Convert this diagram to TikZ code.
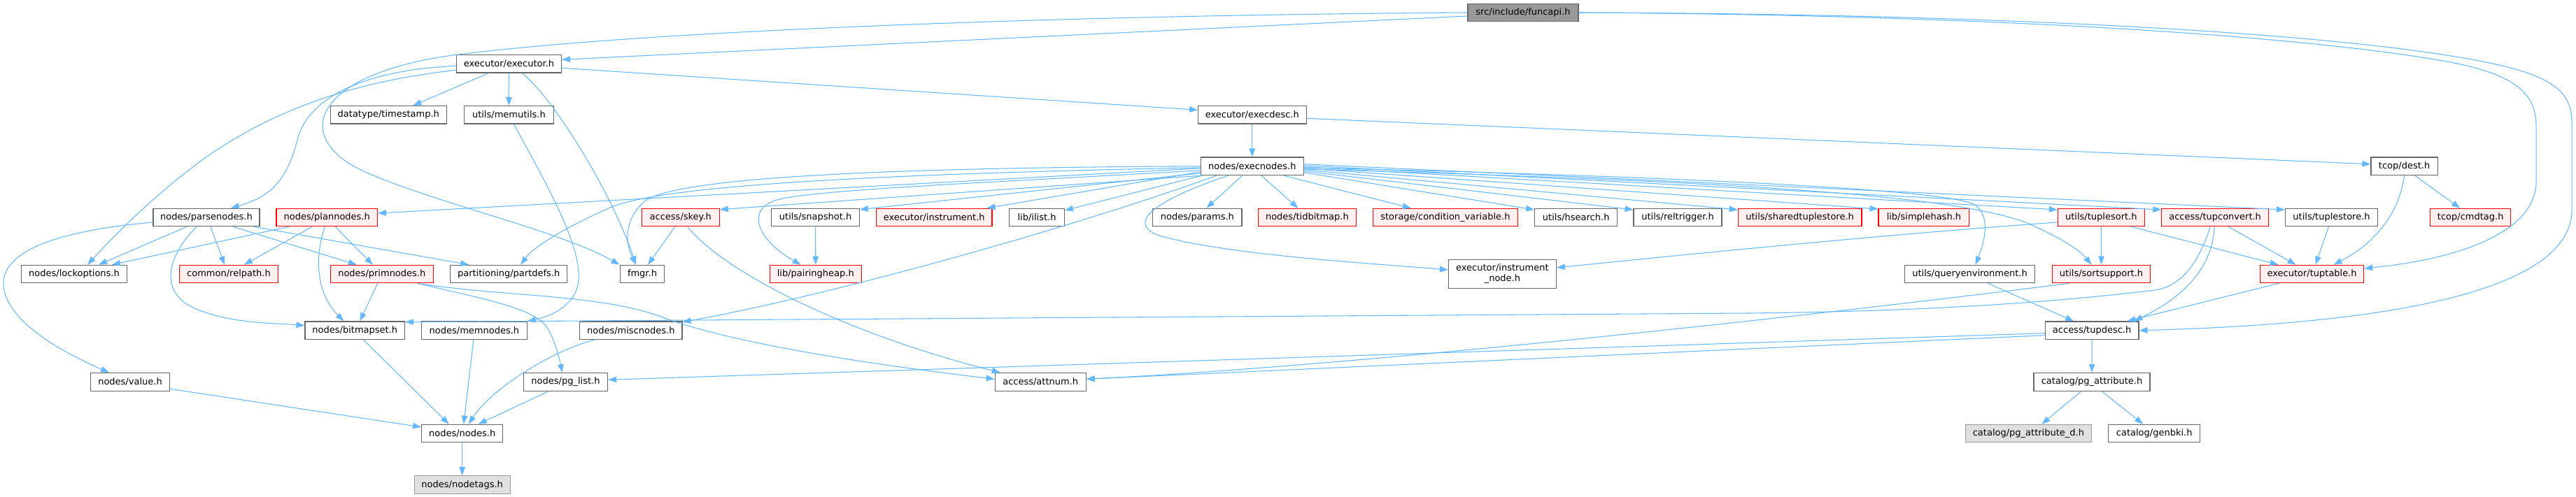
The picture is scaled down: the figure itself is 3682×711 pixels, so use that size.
\documentclass[tikz,border=0pt]{standalone}
\usepackage{fontspec}
\setmainfont{DejaVu Sans}
\usetikzlibrary{arrows.meta,calc}
\definecolor{edgec}{HTML}{63B8FF}
\definecolor{bordc}{HTML}{666666}
\definecolor{redfill}{HTML}{FFF0F0}
\definecolor{rootfill}{HTML}{999999}
\definecolor{grayfill}{HTML}{E0E0E0}
\definecolor{grayb}{HTML}{999999}
\begin{document}
\begin{tikzpicture}[x=1pt,y=-1pt,
  nbox/.style={draw=bordc,fill=white,line width=1.1pt,rectangle,inner sep=0pt,minimum height=25.5pt,font=\fontsize{13}{15}\selectfont,text=black},
  rbox/.style={nbox,draw=red,fill=redfill},
  gbox/.style={nbox,draw=grayb,fill=grayfill},
  rootbox/.style={nbox,fill=rootfill},
  conn/.style={draw=edgec,line width=1.05pt,-{Triangle[length=12pt,width=8.5pt]}}]
\useasboundingbox (0,0) rectangle (3682,711);
\fill[white] (0,0) rectangle (3682,711);
% nodes
\node[rootbox,minimum width=158pt] (funcapi) at (2177,18) {src/include/funcapi.h};
\node[nbox,minimum width=150pt] (executor) at (727.5,91.3) {executor/executor.h};
\node[nbox,minimum width=166.5pt] (timestamp) at (555.3,164.3) {datatype/timestamp.h};
\node[nbox,minimum width=128pt] (memutils) at (727.4,164.3) {utils/memutils.h};
\node[nbox,minimum width=154.6pt] (execdesc) at (1789.8,164.3) {executor/execdesc.h};
\node[nbox,minimum width=146.8pt] (execnodes) at (1789.8,237.8) {nodes/execnodes.h};
\node[nbox,minimum width=95.2pt] (dest) at (3436.6,237.8) {tcop/dest.h};
\node[nbox,minimum width=152pt] (parsenodes) at (295,311) {nodes/parsenodes.h};
\node[rbox,minimum width=144.4pt] (plannodes) at (467.2,311) {nodes/plannodes.h};
\node[rbox,minimum width=110.9pt] (skey) at (972.8,311) {access/skey.h};
\node[nbox,minimum width=125.5pt] (snapshot) at (1165.6,311) {utils/snapshot.h};
\node[rbox,minimum width=165.6pt] (instrument) at (1335.2,311) {executor/instrument.h};
\node[nbox,minimum width=78.8pt] (ilist) at (1482,311) {lib/ilist.h};
\node[nbox,minimum width=127.2pt] (params) at (1711.4,311) {nodes/params.h};
\node[rbox,minimum width=140.3pt] (tidbitmap) at (1868.4,311) {nodes/tidbitmap.h};
\node[rbox,minimum width=206.9pt] (condvar) at (2065.9,311) {storage/condition\_variable.h};
\node[nbox,minimum width=118.2pt] (hsearch) at (2252.7,311) {utils/hsearch.h};
\node[nbox,minimum width=126pt] (reltrigger) at (2398,311) {utils/reltrigger.h};
\node[rbox,minimum width=176.7pt] (sharedts) at (2572.6,311) {utils/sharedtuplestore.h};
\node[rbox,minimum width=129.9pt] (simplehash) at (2749.9,311) {lib/simplehash.h};
\node[rbox,minimum width=123.8pt] (tuplesort) at (3003.3,311) {utils/tuplesort.h};
\node[rbox,minimum width=152.4pt] (tupconvert) at (3166.1,311) {access/tupconvert.h};
\node[nbox,minimum width=132.4pt] (tuplestore) at (3332.5,311) {utils/tuplestore.h};
\node[rbox,minimum width=114.8pt] (cmdtag) at (3531.2,311) {tcop/cmdtag.h};
\node[nbox,minimum width=150.5pt] (lockoptions) at (106,392) {nodes/lockoptions.h};
\node[rbox,minimum width=141.6pt] (relpath) at (327,392) {common/relpath.h};
\node[rbox,minimum width=146.7pt] (primnodes) at (545.8,392) {nodes/primnodes.h};
\node[nbox,minimum width=167pt] (partdefs) at (727.2,392) {partitioning/partdefs.h};
\node[nbox,minimum width=63.7pt] (fmgr) at (918,392) {fmgr.h};
\node[rbox,minimum width=130.8pt] (pairingheap) at (1165.8,392) {lib/pairingheap.h};
\node[nbox,minimum width=153.9pt,minimum height=40.5pt,align=center] (instrnode) at (2147.4,392) {executor/instrument\\\_node.h};
\node[nbox,minimum width=186.8pt] (queryenv) at (2815.5,392) {utils/queryenvironment.h};
\node[rbox,minimum width=140.6pt] (sortsupport) at (3003.5,392) {utils/sortsupport.h};
\node[rbox,minimum width=148.1pt] (tuptable) at (3304.6,392) {executor/tuptable.h};
\node[nbox,minimum width=142.6pt] (bitmapset) at (507.3,472.7) {nodes/bitmapset.h};
\node[nbox,minimum width=150.5pt] (memnodes) at (677.9,472.7) {nodes/memnodes.h};
\node[nbox,minimum width=146.3pt] (miscnodes) at (901.8,472.7) {nodes/miscnodes.h};
\node[nbox,minimum width=133.8pt] (tupdesc) at (2990.1,472.7) {access/tupdesc.h};
\node[nbox,minimum width=113.3pt] (value) at (186,546.3) {nodes/value.h};
\node[nbox,minimum width=120.3pt] (pglist) at (808.5,546.3) {nodes/pg\_list.h};
\node[nbox,minimum width=129.8pt] (attnum) at (1487.2,546.3) {access/attnum.h};
\node[nbox,minimum width=166pt] (pgattr) at (2990,546.3) {catalog/pg\_attribute.h};
\node[nbox,minimum width=116.1pt] (nodes) at (660.7,620) {nodes/nodes.h};
\node[gbox,minimum width=180pt] (pgattrd) at (2899.4,620) {catalog/pg\_attribute\_d.h};
\node[nbox,minimum width=130.9pt] (genbki) at (3079.2,620) {catalog/genbki.h};
\node[gbox,minimum width=136.9pt] (nodetags) at (660.7,693.5) {nodes/nodetags.h};
% funcapi edges
\draw[conn] ($(funcapi.west)+(0,5)$) -- ($(executor.east)+(0,-6)$);
\draw[conn] (funcapi.west) .. controls (1500,22) and (900,45) .. (640,80) .. controls (440,110) and (420,200) .. (520,245) .. controls (620,290) and (800,330) .. (fmgr.north west);
\draw[conn] (funcapi.east) .. controls (2900,22) and (3300,55) .. (3480,85) .. controls (3590,103) and (3625,130) .. (3625,180) -- (3625,260) .. controls (3625,330) and (3520,370) .. ($(tuptable.east)+(0,-8)$);
\draw[conn] (funcapi.east) .. controls (2900,20) and (3330,50) .. (3515,82) .. controls (3640,103) and (3676,125) .. (3676,175) -- (3676,300) .. controls (3676,430) and (3350,465) .. (tupdesc.east);
% executor edges
\draw[conn] ($(executor.east)+(0,6)$) -- ($(execdesc.west)+(0,-7)$);
\draw[conn] ($(executor.south)+(-29,0)$) -- ($(timestamp.north)+(35,0)$);
\draw[conn] (executor.south) -- (memutils.north);
\draw[conn] ($(executor.south)+(19,0)$) .. controls (800,150) and (880,290) .. ($(fmgr.north)+(-9,0)$);
\draw[conn] ($(executor.west)+(0,3)$) .. controls (520,100) and (440,140) .. (425,200) .. controls (410,260) and (385,282) .. ($(parsenodes.north)+(35,0)$);
\draw[conn] ($(executor.west)+(0,9)$) .. controls (520,115) and (400,150) .. (290,228) .. controls (220,280) and (170,330) .. ($(lockoptions.north)+(19,0)$);
% execdesc, dest
\draw[conn] (execdesc.south) -- (execnodes.north);
\draw[conn] ($(execdesc.east)+(0,5)$) -- ($(dest.west)+(0,-3)$);
\draw[conn] ($(dest.south)+(15,0)$) -- ($(cmdtag.north)+(-15,0)$);
\draw[conn] (dest.south) .. controls (3430,300) and (3400,345) .. ($(tuptable.north)+(31,0)$);
% execnodes to the left
\draw[conn] (execnodes.west) .. controls (1200,240) and (950,258) .. (919,290) .. controls (890,318) and (895,350) .. ($(fmgr.north)+(-9,0)$);
\draw[conn] ($(execnodes.west)+(0,2)$) .. controls (1200,250) and (940,268) .. (872,297) .. controls (820,320) and (765,350) .. ($(partdefs.north)+(17,0)$);
\draw[conn] ($(execnodes.west)+(0,3)$) -- ($(plannodes.east)+(0,-6)$);
\draw[conn] ($(execnodes.west)+(0,6)$) .. controls (1400,262) and (1150,272) .. (1107,287) .. controls (1065,302) and (1085,345) .. ($(pairingheap.north)+(-21,0)$);
\draw[conn] ($(execnodes.south west)+(3,0)$) -- ($(skey.north east)+(0,2)$);
\draw[conn] ($(execnodes.west)+(0,10)$) -- ($(snapshot.north east)+(0,2)$);
\draw[conn] ($(execnodes.west)+(0,8)$) -- ($(instrument.north east)+(-8,0)$);
\draw[conn] ($(execnodes.south west)+(2,0)$) -- ($(ilist.east)+(0,-10)$);
\draw[conn] ($(execnodes.south)+(-51,0)$) .. controls (1550,320) and (1200,420) .. ($(miscnodes.east)+(0,-12)$);
\draw[conn] ($(execnodes.south)+(-14,0)$) -- ($(params.north)+(13,0)$);
\draw[conn] ($(execnodes.south)+(13,0)$) -- ($(tidbitmap.north)+(-13,0)$);
\draw[conn] ($(execnodes.south)+(45,0)$) -- ($(condvar.north)+(-49,0)$);
\draw[conn] ($(execnodes.south)+(-34,0)$) .. controls (1640,290) and (1610,322) .. (1660,338) .. controls (1760,365) and (1950,376) .. ($(instrnode.west)+(0,-6)$);
% execnodes to the right
\draw[conn] ($(execnodes.east)+(0,9)$) -- ($(hsearch.west)+(0,-11)$);
\draw[conn] ($(execnodes.east)+(0,7)$) -- ($(reltrigger.west)+(0,-11)$);
\draw[conn] ($(execnodes.east)+(0,5)$) -- ($(sharedts.west)+(0,-11)$);
\draw[conn] ($(execnodes.east)+(0,3)$) -- ($(simplehash.west)+(0,-12)$);
\draw[conn] ($(execnodes.east)+(0,1)$) -- ($(tuplesort.west)+(0,-11)$);
\draw[conn] ($(execnodes.east)+(0,-1)$) -- ($(tupconvert.west)+(0,-11)$);
\draw[conn] ($(execnodes.east)+(0,-3)$) -- ($(tuplestore.west)+(0,-11)$);
\draw[conn] ($(execnodes.east)+(0,2)$) .. controls (2300,250) and (2770,268) .. (2821,292) .. controls (2848,308) and (2835,350) .. ($(queryenv.north)+(8,0)$);
\draw[conn] ($(execnodes.east)+(0,4)$) .. controls (2500,260) and (2800,280) .. (2900,320) .. controls (2940,338) and (2970,355) .. ($(sortsupport.north)+(-14,0)$);
% parsenodes
\draw[conn] ($(parsenodes.west)+(0,7)$) .. controls (80,330) and (5,360) .. (5,405) .. controls (5,455) and (80,500) .. ($(value.north)+(-30,0)$);
\draw[conn] ($(parsenodes.south)+(-28,0)$) -- ($(lockoptions.north)+(35,0)$);
\draw[conn] ($(parsenodes.south)+(-14,0)$) .. controls (245,360) and (225,410) .. (270,437) .. controls (320,463) and (390,462) .. ($(bitmapset.west)+(0,-7)$);
\draw[conn] ($(parsenodes.south)+(6,0)$) -- ($(relpath.north)+(-6,0)$);
\draw[conn] ($(parsenodes.south)+(38,0)$) -- ($(primnodes.north)+(-36,0)$);
\draw[conn] ($(parsenodes.south)+(68,0)$) -- ($(partdefs.north)+(-57,0)$);
% plannodes
\draw[conn] ($(plannodes.south)+(-54,0)$) -- ($(lockoptions.north)+(54,0)$);
\draw[conn] ($(plannodes.south)+(-21,0)$) -- ($(relpath.north)+(22,0)$);
\draw[conn] ($(plannodes.south)+(-3,0)$) .. controls (452,360) and (448,415) .. ($(bitmapset.north)+(-16,0)$);
\draw[conn] ($(plannodes.south)+(12,0)$) -- ($(primnodes.north)+(-13,0)$);
% primnodes
\draw[conn] ($(primnodes.south)+(-6,0)$) -- ($(bitmapset.north)+(7,0)$);
\draw[conn] ($(primnodes.south)+(51,0)$) .. controls (720,425) and (860,420) .. (950,455) .. controls (1050,492) and (1250,522) .. ($(attnum.west)+(0,-4)$);
\draw[conn] ($(primnodes.south)+(51,0)$) .. controls (690,428) and (765,440) .. (783,470) .. controls (795,492) and (800,515) .. ($(pglist.north)+(-5,0)$);
% to nodes.h
\draw[conn] ($(bitmapset.south)+(12,0)$) -- ($(nodes.north)+(-19,0)$);
\draw[conn] ($(memnodes.south)+(-1,0)$) -- ($(nodes.north)+(2,0)$);
\draw[conn] ($(value.east)+(0,10)$) -- ($(nodes.west)+(0,-9)$);
\draw[conn] ($(pglist.south)+(-24,0)$) -- ($(nodes.north)+(23,0)$);
\draw[conn] ($(miscnodes.south)+(-52,0)$) .. controls (780,505) and (700,560) .. ($(nodes.north)+(9,0)$);
\draw[conn] (nodes.south) -- (nodetags.north);
\draw[conn] ($(memutils.south)+(7,0)$) .. controls (785,270) and (830,350) .. (827,400) .. controls (825,435) and (790,452) .. (memnodes.north east);
% skey, snapshot
\draw[conn] ($(skey.south)+(-8,0)$) -- ($(fmgr.north)+(8,0)$);
\draw[conn] ($(skey.south)+(10,0)$) .. controls (1030,385) and (1200,475) .. ($(attnum.north west)+(8,0)$);
\draw[conn] (snapshot.south) -- (pairingheap.north);
% tupconvert, tuplestore, tuplesort
\draw[conn] ($(tupconvert.south)+(-7,0)$) .. controls (3145,370) and (3120,410) .. (3080,415) .. controls (2900,437) and (2700,446) .. (2500,448) -- ($(bitmapset.east)+(0,-12)$);
\draw[conn] ($(tupconvert.south)+(-1,0)$) .. controls (3162,385) and (3120,425) .. ($(tupdesc.north east)+(-7,0)$);
\draw[conn] ($(tupconvert.south)+(19,0)$) -- ($(tuptable.north)+(-23,0)$);
\draw[conn] ($(tuplestore.south)+(-4,0)$) -- ($(tuptable.north)+(5,0)$);
\draw[conn] ($(tuplesort.south)+(43,0)$) -- ($(tuptable.north)+(-48,0)$);
\draw[conn] (tuplesort.south) -- (sortsupport.north);
\draw[conn] ($(tuplesort.west)+(0,7)$) .. controls (2700,335) and (2400,365) .. ($(instrnode.east)+(0,-9)$);
\draw[conn] ($(queryenv.south)+(26,0)$) -- ($(tupdesc.north)+(-26,0)$);
\draw[conn] ($(sortsupport.south)+(-46,0)$) .. controls (2700,438) and (2000,520) .. ($(attnum.east)+(0,-4)$);
\draw[conn] ($(tuptable.south)+(-47,0)$) -- ($(tupdesc.north east)+(-17,0)$);
% tupdesc
\draw[conn] ($(tupdesc.west)+(0,7)$) -- ($(attnum.east)+(0,-4)$);
\draw[conn] ($(tupdesc.west)+(0,4)$) -- ($(pglist.east)+(0,-3)$);
\draw[conn] (tupdesc.south) -- (pgattr.north);
\draw[conn] ($(pgattr.south)+(-15,0)$) -- ($(pgattrd.north)+(19,0)$);
\draw[conn] ($(pgattr.south)+(14,0)$) -- ($(genbki.north)+(-16,0)$);
\end{tikzpicture}
\end{document}
